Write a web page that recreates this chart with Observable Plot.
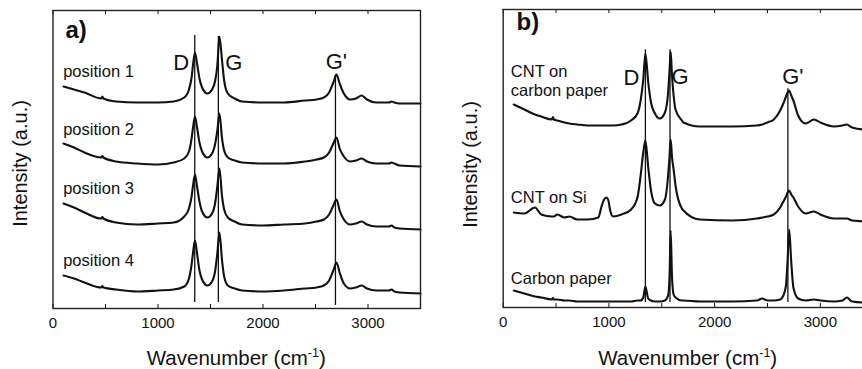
<!DOCTYPE html>
<html><head><meta charset="utf-8">
<script src="https://cdn.jsdelivr.net/npm/d3@7"></script>
<script src="https://cdn.jsdelivr.net/npm/@observablehq/plot@0.6"></script>
<style>
html,body{margin:0;padding:0;background:#fff;overflow:hidden;}
#wrap{display:flex;flex-wrap:nowrap;width:880px;height:369px;}
#wrap svg{display:block;flex:none;}
</style></head><body><div id="wrap"></div>
<script>
// ---------- Panel a: four positions ----------
const wnA = [100,200,300,460,470,480,600,800,1000,1150,1250,1295,1320,1335,1352,1372,1395,1420,1470,1515,1545,1565,1585,1610,1630,1665,1730,1800,2000,2200,2400,2510,2580,2630,2670,2700,2730,2770,2830,2885,2940,2990,3080,3200,3225,3250,3300,3500];
const pos1 = [222,219,216,210,212,210,207,206,206,207,211,219,231,245,256,245,230,221,215,219,228,243,272,248,228,215,210,207,206,206,208,209,211,216,226,234,225,215,209,210,213,209,206,206,207,206,205,205];
const pos2 = [165,161,156,151,152.5,151,147,145,144,146,150,157,170,182,192,181,166,157,151,155,165,178,195,170,158,151,148,146,145,145,147,149,151,156,165,171,160,152,147,148,150,147,145,145,146,145,143,142];
const pos3 = [105,101,96,90,91.5,90,86,84,85,86,92,100,112,124,134,122,107,97,91,95,106,122,140,112,99,91,87,84,83,84,85,87,89,94,103,109,98,89,84,85,87,84,82,82,83,81,80,79];
const pos4 = [33,30,26,21,22.5,21,19,17,18,19,22,30,44,57,68,55,38,29,23,27,38,55,76,48,32,23,20,18,17,18,20,21,23,28,38,46,36,25,20,21,23,20,18,18,19,17,16,15];
const seriesNamesA = ["position 1","position 2","position 3","position 4"];
const labelYA = [232, 173.5, 114.7, 42.5];
const labelXA = 97;

// ---------- Panel b: three samples ----------
const wnB = [100,200,300,360,460,470,480,510,580,625,700,800,900,930,955,975,995,1012,1040,1120,1210,1270,1300,1325,1345,1372,1398,1435,1482,1530,1560,1574,1584,1597,1612,1630,1690,1705,1860,2170,2400,2450,2500,2560,2620,2650,2675,2690,2705,2725,2745,2790,2860,2940,3000,3130,3210,3250,3300,3420,3500];
const cntOnPaper = [203,198,193,191,188,190.5,188,187,185,184,183,182,182,182,182,182,182,182,182,183,187,194,207,228,254,225,205,194,189,195,215,238,256,232,212,198,187,185,181,181,182,183,185,188,197,204,211,215,217,212,207,192,184,188,185,181,182,183,180,178,178];
const cntOnSi = [95,94,100,93,91,91,91,93,90,91,88,88,90,101,108,110,107,97,91,93,98,110,132,155,167,140,117,104,102,108,132,152,168,150,138,122,99,97,88,87,89,90,91,93,100,106,111,115,117,113,110,101,94,96,93,89,89,89,87,86,85];
const carbonPaper = [17,14,11,10,8,9.5,8,8,7,7,6,6,6,6,6,6,6,6,6,6,6,7,7,10,21,9,7,6,6,7,12,33,77,30,13,10,7,7,6,6,7,9,7,7,8,12,22,47,78,45,20,9,7,8,7,6,7,10,6,5,5];
const sampleLabels = ["CNT on","carbon paper","CNT on Si","Carbon paper"];
const sampleLabelY = [230.3, 212, 105, 24];
const sampleLabelX = 72;

// ---------- Peak markers ----------
const peakNames = ["D","G","G'"];
const peakWnA = [1350,1575,2690];
const peakTopA = [273,272,233];
const peakBottomA = [6,6,3];
const peakLabelXA = [1222,1722,2698];
const peakLabelYA = [238.7,238.7,240];
const peakWnB = [1345,1578,2693];
const peakTopB = [257.7,257.7,218.7];
const peakBottomB = [5,5,5];
const peakLabelXB = [1214,1673,2740];
const peakLabelYB = [223,223.5,224];

const panelTags = ["a)","b)"];
const tagX = [119,126];
const tagY = [270.5,277.5];

const xTicksMajor = [0,1000,2000,3000];
const xTicksAll = [0,500,1000,1500,2000,2500,3000,3500];
const xLabel = "Wavenumber (cm";
const xLabelSup = "-1";
const yLabel = "Intensity (a.u.)";

const FONT = '"Liberation Sans", Arial, Helvetica, sans-serif';
const INK = "#111";

function buildRows(wn, list, names) {
  const rows = [];
  list.forEach((vals, i) => wn.forEach((w, j) => rows.push({wn: w, v: vals[j], s: names[i]})));
  return rows;
}

function makePanel(opt) {
  const markers = peakNames.map((n, i) => ({wn: opt.peakWn[i], y1: opt.peakBottom[i], y2: opt.peakTop[i]}));
  const peakLabels = peakNames.map((n, i) => ({t: n, wn: opt.peakLabelX[i], v: opt.peakLabelY[i]}));
  const seriesLabels = opt.labels.map((t, i) => ({t, wn: opt.labelX, v: opt.labelY[i]}));
  const plot = Plot.plot({
    width: opt.width, height: 369,
    marginLeft: opt.marginLeft, marginRight: opt.marginRight,
    marginTop: opt.marginTop, marginBottom: opt.marginBottom,
    style: {fontFamily: FONT, fontSize: "15px", color: INK, background: "#fff"},
    x: {domain: [0, 3500]},
    y: {domain: [0, 298], axis: null},
    marks: [
      Plot.ruleX(xTicksAll, {y1: 0, y2: 4, stroke: INK, strokeWidth: 1}),
      Plot.ruleX(xTicksAll, {y1: 294, y2: 298, stroke: INK, strokeWidth: 1}),
      Plot.axisX({ticks: xTicksMajor, tickSize: 0, tickPadding: 9, tickFormat: d3.format("d"), label: null, fontSize: 15}),
      Plot.ruleX(markers, {x: "wn", y1: "y1", y2: "y2", stroke: INK, strokeWidth: 1.3}),
      Plot.line(opt.rows, {x: "wn", y: "v", z: "s", stroke: INK, strokeWidth: 2.1, curve: "monotone-x"}),
      Plot.text(peakLabels, {x: "wn", y: "v", text: "t", fontSize: 22, textAnchor: "middle", lineAnchor: "bottom", fill: INK}),
      Plot.text(seriesLabels, {x: "wn", y: "v", text: "t", fontSize: 16.5, textAnchor: "start", lineAnchor: "bottom", fill: INK}),
      Plot.text([opt.tag], {x: () => opt.tagX, y: () => opt.tagY, text: d => d, fontSize: 24, fontWeight: "bold", textAnchor: "start", lineAnchor: "bottom", fill: INK}),
      Plot.text([yLabel], {frameAnchor: "left", rotate: -90, dx: opt.yLabelDx, dy: opt.yLabelDy, text: d => d, fontSize: 20, textAnchor: "middle", lineAnchor: "middle", fill: INK}),
      Plot.frame({stroke: "#222", strokeWidth: 1.4})
    ]
  });
  const sx = plot.scale("x");
  const cx = (sx.range[0] + sx.range[1]) / 2;
  const t = d3.select(plot).append("text")
    .attr("x", cx).attr("y", 365)
    .attr("text-anchor", "middle")
    .attr("fill", INK)
    .style("font-family", FONT).style("font-size", "20.5px");
  t.append("tspan").text(xLabel);
  t.append("tspan").attr("dy", -8).style("font-size", "12.5px").text(xLabelSup);
  t.append("tspan").attr("dy", 8).text(")");
  return plot;
}

const wrap = document.getElementById("wrap");
wrap.appendChild(makePanel({
  width: 450, marginLeft: 52.5, marginRight: 30, marginTop: 10, marginBottom: 61,
  rows: buildRows(wnA, [pos1, pos2, pos3, pos4], seriesNamesA),
  labels: seriesNamesA, labelX: labelXA, labelY: labelYA,
  peakWn: peakWnA, peakTop: peakTopA, peakBottom: peakBottomA,
  peakLabelX: peakLabelXA, peakLabelY: peakLabelYA,
  tag: panelTags[0], tagX: tagX[0], tagY: tagY[0],
  yLabelDx: -32, yLabelDy: 4
}));
wrap.appendChild(makePanel({
  width: 430, marginLeft: 52.7, marginRight: 7.3, marginTop: 9, marginBottom: 62,
  rows: buildRows(wnB, [cntOnPaper, cntOnSi, carbonPaper], ["CNT on carbon paper","CNT on Si","Carbon paper"]),
  labels: sampleLabels, labelX: sampleLabelX, labelY: sampleLabelY,
  peakWn: peakWnB, peakTop: peakTopB, peakBottom: peakBottomB,
  peakLabelX: peakLabelXB, peakLabelY: peakLabelYB,
  tag: panelTags[1], tagX: tagX[1], tagY: tagY[1],
  yLabelDx: -33, yLabelDy: 6
}));
</script></body></html>
